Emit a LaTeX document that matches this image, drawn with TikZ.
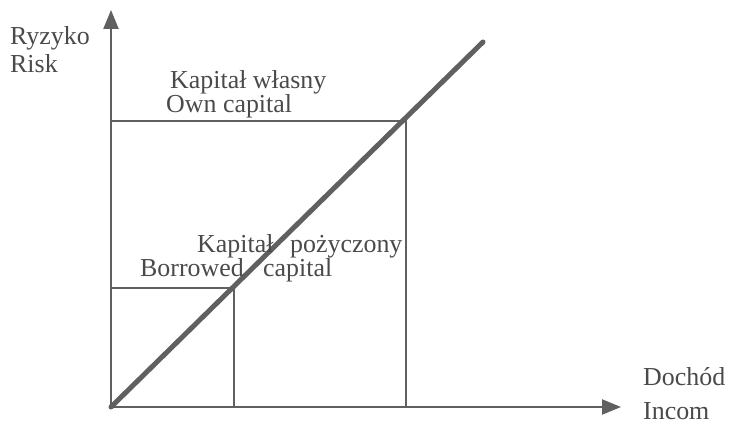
\documentclass[tikz,border=0pt]{standalone}
\usepackage{fontspec}
\setmainfont{Liberation Serif}
\usetikzlibrary{arrows.meta}
\definecolor{ink}{HTML}{606060}
\definecolor{txt}{HTML}{4A4A4A}
\begin{document}
\begin{tikzpicture}[x=1bp,y=-1bp,
  lbl/.style={anchor=base west,inner sep=0pt,text=txt,font=\fontsize{26}{26}\selectfont},
  axis/.style={draw=ink,line width=2.4bp,-{Triangle[length=19bp,width=15bp]}},
  thin/.style={draw=ink,line width=1.7bp},
  diag/.style={draw=ink,line width=5bp,line cap=round}]
\useasboundingbox (0,0) rectangle (730,437);
\coordinate (O) at (111,407);
\coordinate (Ytip) at (111,10);
\coordinate (Xtip) at (621,407);
\coordinate (D) at (483,42);
\coordinate (B1) at (111,121);
\coordinate (B2) at (406,121);
\coordinate (B3) at (406,407);
\coordinate (S1) at (111,288);
\coordinate (S2) at (234,288);
\coordinate (S3) at (234,407);
\draw[axis] (O) -- (Ytip);
\draw[axis] (O) -- (Xtip);
\draw[thin] (B1) -- (B2) -- (B3);
\draw[thin] (S1) -- (S2) -- (S3);
\draw[diag] (O) -- (D);
\node[lbl] (ry) at (10,45) {Ryzyko};
\node[lbl] (ri) at (10,73) {Risk};
\node[lbl] (kw) at (170,89) {Kapitał własny};
\node[lbl] (oc) at (166,113) {Own capital};
\node[lbl] (kp) at (197,253) {Kapitał};
\node[lbl] (po) at (290,253) {pożyczony};
\node[lbl] (bo) at (140,277) {Borrowed};
\node[lbl] (ca) at (263,277) {capital};
\node[lbl] (do) at (643,385) {Dochód};
\node[lbl] (in) at (643,419) {Incom};
\end{tikzpicture}
\end{document}
